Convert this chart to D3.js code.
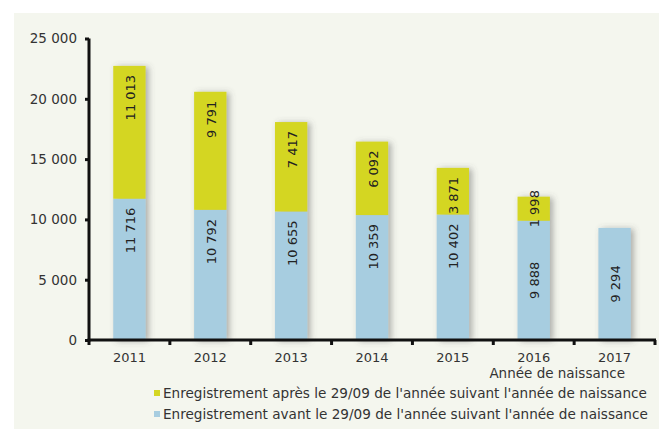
<!DOCTYPE html>
<html><head><meta charset="utf-8">
<script src="https://cdn.jsdelivr.net/npm/d3@7"></script>
<style>body{margin:0;background:#fff}svg{display:block}</style>
</head><body><svg id="c" width="659" height="429"></svg>
<script>
const years = ["2011","2012","2013","2014","2015","2016","2017"];
const avant = [11716,10792,10655,10359,10402,9888,9294];
const apres = [11013,9791,7417,6092,3871,1998,0];
const yTicks = [0,5000,10000,15000,20000,25000];
const centeredLabelYears = ["2016","2017"];
const seriesNames = ["Enregistrement après le 29/09 de l'année suivant l'année de naissance",
                     "Enregistrement avant le 29/09 de l'année suivant l'année de naissance"];
const xTitle = "Année de naissance";

const colBlue = "#a7cde0", colYellow = "#d4d622";
const svg = d3.select("#c");
const defs = svg.append("defs");
const f = defs.append("filter").attr("id","sh").attr("x","-30%").attr("y","-10%").attr("width","170%").attr("height","130%");
f.append("feDropShadow").attr("dx",3).attr("dy",1).attr("stdDeviation",3).attr("flood-color","#555").attr("flood-opacity",0.45);

svg.append("rect").attr("x",14).attr("y",13).attr("width",645).attr("height",416).attr("fill","#f4f6ee");

const x = d3.scaleBand().domain(years).range([89,655]).paddingInner(0.6).paddingOuter(0.3);
const y = d3.scaleLinear().domain([0,25000]).range([340,38.5]);
const font = "DejaVu Sans, Verdana, sans-serif";

const data = years.map((yr,i)=>({yr, a:avant[i], b:apres[i]}));
const g = svg.append("g");
data.forEach(d=>{
  const gg = g.append("g").attr("filter","url(#sh)");
  gg.append("rect").attr("x",x(d.yr)).attr("width",x.bandwidth()).attr("y",y(d.a)).attr("height",y(0)-y(d.a)).attr("fill",colBlue);
  if(d.b>0) gg.append("rect").attr("x",x(d.yr)).attr("width",x.bandwidth()).attr("y",y(d.a+d.b)).attr("height",y(d.a)-y(d.a+d.b)).attr("fill",colYellow);
});
const fmt = v => d3.format(",")(v).replace(/,/g," ");
function label(yr, lo, hi){
  const cx = x(yr)+x.bandwidth()/2;
  const centered = centeredLabelYears.includes(yr);
  const yTop = y(hi), yBot = y(lo);
  const t = svg.append("text").attr("font-family",font).attr("font-size",13).attr("fill","#222")
    .attr("dominant-baseline","central").text(fmt(hi-lo));
  if(centered){
    t.attr("text-anchor","middle").attr("transform",`translate(${cx+1},${(yTop+yBot)/2}) rotate(-90)`);
  } else {
    t.attr("text-anchor","end").attr("transform",`translate(${cx+1},${yTop+9}) rotate(-90)`);
  }
}
data.forEach(d=>{
  label(d.yr, 0, d.a);
  if(d.b>0) label(d.yr, d.a, d.a+d.b);
});

// axes
const ya = svg.append("g").attr("transform","translate(89,0)")
  .call(d3.axisLeft(y).tickValues(yTicks).tickSize(4).tickPadding(8).tickFormat(fmt));
ya.select(".domain").attr("stroke","#111").attr("stroke-width",3).attr("d","M0,38.5V341.5");
ya.selectAll(".tick line").attr("stroke","#111").attr("stroke-width",3);
ya.selectAll(".tick text").attr("font-family",font).attr("font-size",13.5).attr("fill","#333");

const bounds = [89].concat(years.map((yr,i)=>89+(i+1)*(566/7)));
const xa = svg.append("g").attr("transform","translate(0,340)")
  .call(d3.axisBottom(x).tickSize(0).tickPadding(13));
xa.select(".domain").attr("stroke","#111").attr("stroke-width",3).attr("d","M87.5,0H656");
xa.selectAll(".tick text").attr("font-family",font).attr("font-size",13).attr("fill","#333");
svg.append("g").selectAll("line").data(bounds).join("line")
  .attr("x1",d=>d).attr("x2",d=>d).attr("y1",340).attr("y2",345).attr("stroke","#111").attr("stroke-width",3);

svg.append("text").attr("x",625).attr("y",378).attr("text-anchor","end").attr("font-family",font)
  .attr("font-size",13.5).attr("fill","#333").text(xTitle);

// legend
const lg = svg.append("g");
[colYellow,colBlue].forEach((c,i)=>{
  lg.append("rect").attr("x",154).attr("y",390+i*21).attr("width",6).attr("height",6).attr("fill",c);
  lg.append("text").attr("x",163).attr("y",397.5+i*21).attr("font-family",font).attr("font-size",13.6).attr("fill","#333").text(seriesNames[i]);
});
</script></body></html>
